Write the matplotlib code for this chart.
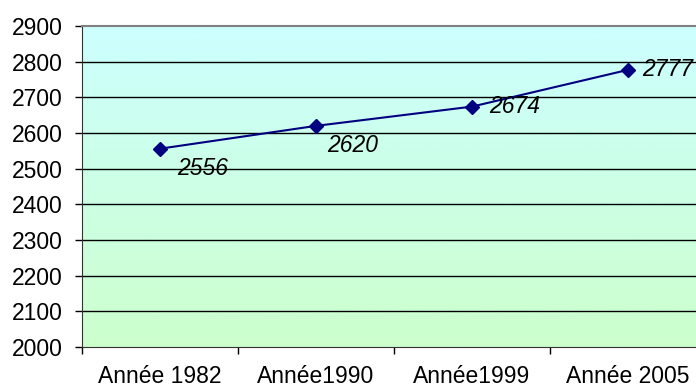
import numpy as np
import matplotlib.pyplot as plt
from matplotlib.colors import LinearSegmentedColormap

years = ["Année 1982", "Année1990", "Année1999", "Année 2005"]
values = [2556, 2620, 2674, 2777]
label_offsets = [(12, -14), (8, -14), (12, 0), (10, 0)]

plt.rcParams['font.family'] = ['Liberation Sans', 'DejaVu Sans']

fig = plt.figure(figsize=(6.96, 3.88), dpi=100)
ax = fig.add_axes([82 / 696, 1 - 347 / 388, 624 / 696, 321 / 388])

x = np.arange(len(years))
ax.set_xlim(-0.5, len(years) - 0.5)
ax.set_ylim(2000, 2900)

# gradient background
cmap = LinearSegmentedColormap.from_list("bg", ["#ccffcc", "#ccffff"])
grad = np.linspace(0, 1, 256).reshape(-1, 1)
ax.imshow(grad, cmap=cmap, origin='lower', aspect='auto',
          extent=[-0.5, len(years) - 0.5, 2000, 2900], zorder=0)

for yv in range(2100, 2900, 100):
    ax.axhline(yv, color='black', lw=1, zorder=1)

ax.plot(x, values, color='#000080', lw=1.5, marker='D', markersize=7, zorder=3)

for xi, v, (dx, dy) in zip(x, values, label_offsets):
    ax.annotate(str(v), (xi, v), xytext=(dx, dy), textcoords='offset points',
                fontsize=16.5, fontstyle='italic', va='center', ha='left', zorder=4)

ax.set_yticks(range(2000, 3000, 100))
ax.tick_params(axis='y', labelsize=16.5, length=5, width=1, direction='out', pad=9)

ax.set_xticks(np.arange(-0.5, len(years) - 0.5, 1.0))
ax.set_xticklabels([])
ax.tick_params(axis='x', which='major', length=5, width=1, direction='out')
ax.set_xticks(x, minor=True)
ax.set_xticklabels(years, minor=True)
ax.tick_params(axis='x', which='minor', length=0, labelsize=16.5, pad=13)

ax.spines['left'].set_color('#333333')
ax.spines['bottom'].set_color('#333333')
ax.spines['top'].set_color('#808080')
ax.spines['top'].set_linewidth(1.5)
ax.spines['right'].set_visible(False)

fig.savefig("out.png", dpi=100)
